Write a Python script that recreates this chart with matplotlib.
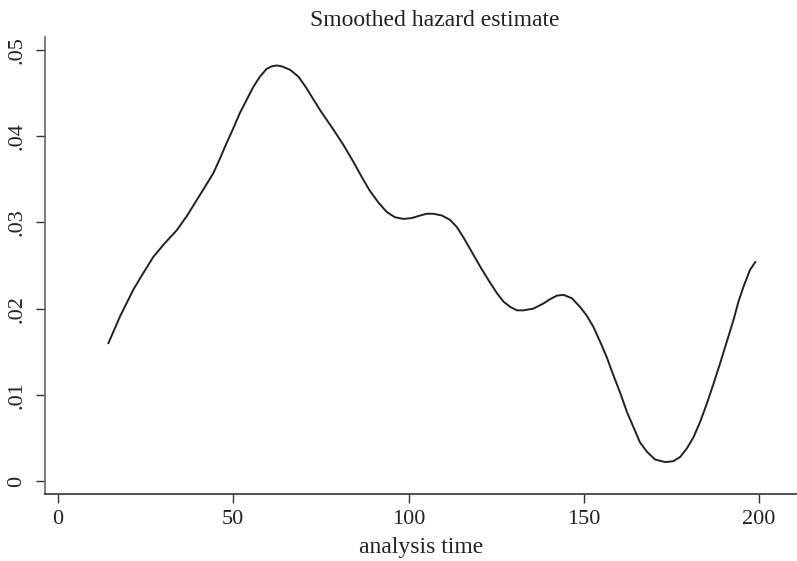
import numpy as np
import matplotlib
matplotlib.use("Agg")
from matplotlib import pyplot as plt

# smoothed hazard
t = [14.4, 17.7, 21.5, 24.3, 27.2, 30.5, 33.9, 36.7, 39.6, 41.9, 44.3, 46.2,
     48.1, 50.0, 51.9, 53.8, 55.7, 57.6, 59.5, 61.0, 62.4, 63.8, 66.2, 68.6,
     71.0, 72.8, 74.8, 78.5, 81.4, 84.3, 86.6, 88.9, 91.4, 93.8, 96.1, 98.5,
     100.9, 103.3, 105.2, 107.1, 109.5, 111.8, 113.7, 115.6, 118.0, 120.4,
     122.8, 125.2, 127.1, 129.0, 130.9, 132.8, 135.6, 138.5, 140.4, 142.3,
     144.2, 146.6, 148.9, 150.8, 152.7, 154.6, 156.5, 158.4, 160.4, 162.3,
     164.1, 166.0, 168.0, 170.3, 173.2, 175.5, 177.5, 179.4, 181.3, 183.2,
     185.1, 187.0, 188.9, 190.8, 192.7, 194.1, 195.5, 197.4, 198.9]
hazard = [.0160, .0191, .0222, .0241, .0260, .0276, .0291, .0307, .0326,
          .0341, .0357, .0374, .0392, .0409, .0427, .0442, .0457, .0469,
          .0478, .0481, .0482, .0481, .0477, .0469, .0455, .0443, .0430,
          .0408, .0390, .0370, .0353, .0337, .0323, .0312, .0306, .0304,
          .0305, .0308, .0310, .0310, .0308, .0303, .0295, .0283, .0266,
          .0249, .0233, .0218, .0208, .0202, .0198, .0198, .0200, .0206,
          .0211, .0215, .0216, .0212, .0202, .0192, .0179, .0162, .0144,
          .0123, .0102, .0080, .0063, .0045, .0034, .0025, .0022, .0023,
          .0028, .0038, .0051, .0069, .0090, .0113, .0137, .0162, .0187,
          .0208, .0225, .0245, .0254]

xticks = [0, 50, 100, 150, 200]
yticks = [0, .01, .02, .03, .04, .05]
ylabels = ["0", ".01", ".02", ".03", ".04", ".05"]

plt.rcParams['font.family'] = ['Liberation Serif', 'DejaVu Serif']

W, H = 797, 561
fig = plt.figure(figsize=(W / 100, H / 100), dpi=100)
ax = fig.add_axes([45 / W, 1 - 494 / H, 752 / W, 457 / H])

ax.plot(t, hazard, color='#222222', lw=1.4, solid_joinstyle='round')

ax.set_xlim(-3.7, 210.8)
ax.set_ylim(-0.0015, 0.0515)
ax.set_xticks(xticks)
ax.set_yticks(yticks)
ax.set_yticklabels(ylabels, rotation=90, va='center')

for s in ['top', 'right']:
    ax.spines[s].set_visible(False)
ax.spines['left'].set_color('#666666')
ax.spines['bottom'].set_color('#333333')
ax.spines['left'].set_linewidth(1.2)
ax.spines['bottom'].set_linewidth(1.2)
ax.tick_params(axis='both', length=6.5, width=1, color='#333333',
               labelsize=16, labelcolor='#222222')
ax.tick_params(axis='x', pad=5)
ax.tick_params(axis='y', pad=7)

ax.set_xlabel('analysis time', fontsize=17, color='#222222', labelpad=6)
fig.text(435 / W, 1 - 20 / H, 'Smoothed hazard estimate', fontsize=17,
         color='#222222', ha='center', va='center')

fig.savefig('out.png', dpi=100)
